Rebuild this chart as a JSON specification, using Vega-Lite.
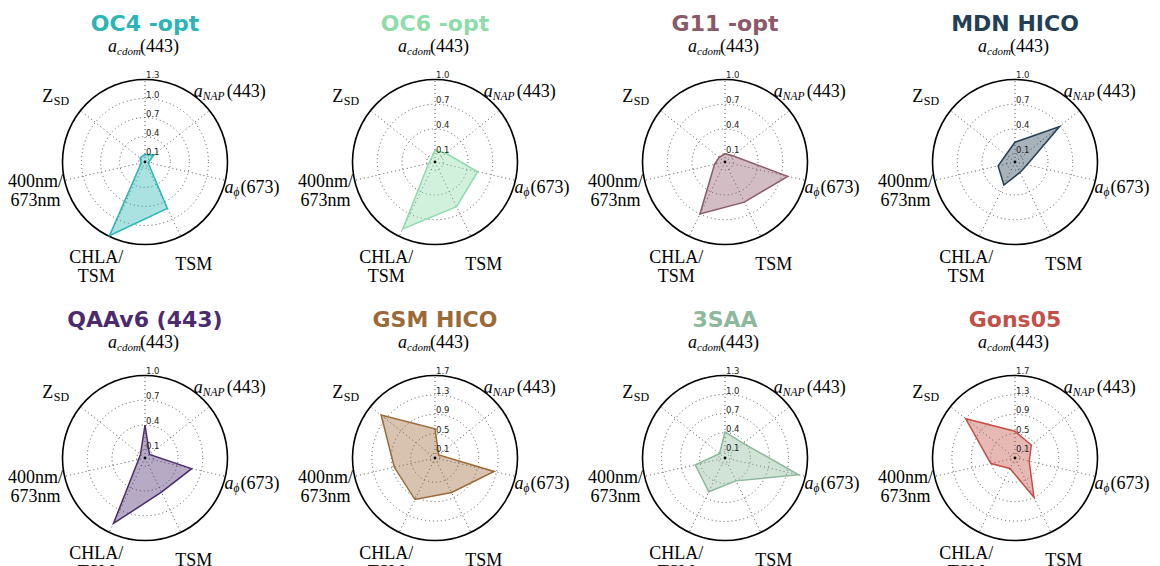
{
  "$schema": "https://vega.github.io/schema/vega-lite/v6.json",
  "padding": 0,
  "background": "white",
  "datasets": {
    "panels": [
      {"panel": "OC4 -opt", "rmax": 1.3},
      {"panel": "OC6 -opt", "rmax": 1.0},
      {"panel": "G11 -opt", "rmax": 1.0},
      {"panel": "MDN HICO", "rmax": 1.0},
      {"panel": "QAAv6 (443)", "rmax": 1.0},
      {"panel": "GSM HICO", "rmax": 1.7},
      {"panel": "3SAA", "rmax": 1.3},
      {"panel": "Gons05", "rmax": 1.7}
    ],
    "rows": [
      {"panel": "OC4 -opt", "kind": "value", "k": 0, "axis": "acdom", "v": 0.12},
      {"panel": "OC4 -opt", "kind": "value", "k": 1, "axis": "aNAP", "v": 0.18},
      {"panel": "OC4 -opt", "kind": "value", "k": 2, "axis": "aphi", "v": 0.05},
      {"panel": "OC4 -opt", "kind": "value", "k": 3, "axis": "TSM", "v": 0.81},
      {"panel": "OC4 -opt", "kind": "value", "k": 4, "axis": "CHLA/\nTSM", "v": 1.29},
      {"panel": "OC4 -opt", "kind": "value", "k": 5, "axis": "400nm/\n673nm", "v": 0.06},
      {"panel": "OC4 -opt", "kind": "value", "k": 6, "axis": "ZSD", "v": 0.10},
      {"panel": "OC6 -opt", "kind": "value", "k": 0, "axis": "acdom", "v": 0.14},
      {"panel": "OC6 -opt", "kind": "value", "k": 1, "axis": "aNAP", "v": 0.17},
      {"panel": "OC6 -opt", "kind": "value", "k": 2, "axis": "aphi", "v": 0.53},
      {"panel": "OC6 -opt", "kind": "value", "k": 3, "axis": "TSM", "v": 0.60},
      {"panel": "OC6 -opt", "kind": "value", "k": 4, "axis": "CHLA/\nTSM", "v": 0.90},
      {"panel": "OC6 -opt", "kind": "value", "k": 5, "axis": "400nm/\n673nm", "v": 0.08},
      {"panel": "OC6 -opt", "kind": "value", "k": 6, "axis": "ZSD", "v": 0.06},
      {"panel": "G11 -opt", "kind": "value", "k": 0, "axis": "acdom", "v": 0.10},
      {"panel": "G11 -opt", "kind": "value", "k": 1, "axis": "aNAP", "v": 0.12},
      {"panel": "G11 -opt", "kind": "value", "k": 2, "axis": "aphi", "v": 0.78},
      {"panel": "G11 -opt", "kind": "value", "k": 3, "axis": "TSM", "v": 0.54},
      {"panel": "G11 -opt", "kind": "value", "k": 4, "axis": "CHLA/\nTSM", "v": 0.70},
      {"panel": "G11 -opt", "kind": "value", "k": 5, "axis": "400nm/\n673nm", "v": 0.13},
      {"panel": "G11 -opt", "kind": "value", "k": 6, "axis": "ZSD", "v": 0.09},
      {"panel": "MDN HICO", "kind": "value", "k": 0, "axis": "acdom", "v": 0.24},
      {"panel": "MDN HICO", "kind": "value", "k": 1, "axis": "aNAP", "v": 0.69},
      {"panel": "MDN HICO", "kind": "value", "k": 2, "axis": "aphi", "v": 0.15},
      {"panel": "MDN HICO", "kind": "value", "k": 3, "axis": "TSM", "v": 0.14},
      {"panel": "MDN HICO", "kind": "value", "k": 4, "axis": "CHLA/\nTSM", "v": 0.31},
      {"panel": "MDN HICO", "kind": "value", "k": 5, "axis": "400nm/\n673nm", "v": 0.21},
      {"panel": "MDN HICO", "kind": "value", "k": 6, "axis": "ZSD", "v": 0.14},
      {"panel": "QAAv6 (443)", "kind": "value", "k": 0, "axis": "acdom", "v": 0.40},
      {"panel": "QAAv6 (443)", "kind": "value", "k": 1, "axis": "aNAP", "v": 0.07},
      {"panel": "QAAv6 (443)", "kind": "value", "k": 2, "axis": "aphi", "v": 0.58},
      {"panel": "QAAv6 (443)", "kind": "value", "k": 3, "axis": "TSM", "v": 0.46},
      {"panel": "QAAv6 (443)", "kind": "value", "k": 4, "axis": "CHLA/\nTSM", "v": 0.88},
      {"panel": "QAAv6 (443)", "kind": "value", "k": 5, "axis": "400nm/\n673nm", "v": 0.08},
      {"panel": "QAAv6 (443)", "kind": "value", "k": 6, "axis": "ZSD", "v": 0.07},
      {"panel": "GSM HICO", "kind": "value", "k": 0, "axis": "acdom", "v": 0.60},
      {"panel": "GSM HICO", "kind": "value", "k": 1, "axis": "aNAP", "v": 0.10},
      {"panel": "GSM HICO", "kind": "value", "k": 2, "axis": "aphi", "v": 1.25},
      {"panel": "GSM HICO", "kind": "value", "k": 3, "axis": "TSM", "v": 0.79},
      {"panel": "GSM HICO", "kind": "value", "k": 4, "axis": "CHLA/\nTSM", "v": 0.95},
      {"panel": "GSM HICO", "kind": "value", "k": 5, "axis": "400nm/\n673nm", "v": 0.86},
      {"panel": "GSM HICO", "kind": "value", "k": 6, "axis": "ZSD", "v": 1.42},
      {"panel": "3SAA", "kind": "value", "k": 0, "axis": "acdom", "v": 0.41},
      {"panel": "3SAA", "kind": "value", "k": 1, "axis": "aNAP", "v": 0.37},
      {"panel": "3SAA", "kind": "value", "k": 2, "axis": "aphi", "v": 1.19},
      {"panel": "3SAA", "kind": "value", "k": 3, "axis": "TSM", "v": 0.40},
      {"panel": "3SAA", "kind": "value", "k": 4, "axis": "CHLA/\nTSM", "v": 0.59},
      {"panel": "3SAA", "kind": "value", "k": 5, "axis": "400nm/\n673nm", "v": 0.48},
      {"panel": "3SAA", "kind": "value", "k": 6, "axis": "ZSD", "v": 0.11},
      {"panel": "Gons05", "kind": "value", "k": 0, "axis": "acdom", "v": 0.55},
      {"panel": "Gons05", "kind": "value", "k": 1, "axis": "aNAP", "v": 0.43},
      {"panel": "Gons05", "kind": "value", "k": 2, "axis": "aphi", "v": 0.30},
      {"panel": "Gons05", "kind": "value", "k": 3, "axis": "TSM", "v": 0.90},
      {"panel": "Gons05", "kind": "value", "k": 4, "axis": "CHLA/\nTSM", "v": 0.24},
      {"panel": "Gons05", "kind": "value", "k": 5, "axis": "400nm/\n673nm", "v": 0.51},
      {"panel": "Gons05", "kind": "value", "k": 6, "axis": "ZSD", "v": 1.30},
      {"panel": "OC4 -opt", "kind": "tick", "t": 0.1},
      {"panel": "OC4 -opt", "kind": "tick", "t": 0.4},
      {"panel": "OC4 -opt", "kind": "tick", "t": 0.7},
      {"panel": "OC4 -opt", "kind": "tick", "t": 1.0},
      {"panel": "OC4 -opt", "kind": "tick", "t": 1.3},
      {"panel": "OC6 -opt", "kind": "tick", "t": 0.1},
      {"panel": "OC6 -opt", "kind": "tick", "t": 0.4},
      {"panel": "OC6 -opt", "kind": "tick", "t": 0.7},
      {"panel": "OC6 -opt", "kind": "tick", "t": 1.0},
      {"panel": "G11 -opt", "kind": "tick", "t": 0.1},
      {"panel": "G11 -opt", "kind": "tick", "t": 0.4},
      {"panel": "G11 -opt", "kind": "tick", "t": 0.7},
      {"panel": "G11 -opt", "kind": "tick", "t": 1.0},
      {"panel": "MDN HICO", "kind": "tick", "t": 0.1},
      {"panel": "MDN HICO", "kind": "tick", "t": 0.4},
      {"panel": "MDN HICO", "kind": "tick", "t": 0.7},
      {"panel": "MDN HICO", "kind": "tick", "t": 1.0},
      {"panel": "QAAv6 (443)", "kind": "tick", "t": 0.1},
      {"panel": "QAAv6 (443)", "kind": "tick", "t": 0.4},
      {"panel": "QAAv6 (443)", "kind": "tick", "t": 0.7},
      {"panel": "QAAv6 (443)", "kind": "tick", "t": 1.0},
      {"panel": "GSM HICO", "kind": "tick", "t": 0.1},
      {"panel": "GSM HICO", "kind": "tick", "t": 0.5},
      {"panel": "GSM HICO", "kind": "tick", "t": 0.9},
      {"panel": "GSM HICO", "kind": "tick", "t": 1.3},
      {"panel": "GSM HICO", "kind": "tick", "t": 1.7},
      {"panel": "3SAA", "kind": "tick", "t": 0.1},
      {"panel": "3SAA", "kind": "tick", "t": 0.4},
      {"panel": "3SAA", "kind": "tick", "t": 0.7},
      {"panel": "3SAA", "kind": "tick", "t": 1.0},
      {"panel": "3SAA", "kind": "tick", "t": 1.3},
      {"panel": "Gons05", "kind": "tick", "t": 0.1},
      {"panel": "Gons05", "kind": "tick", "t": 0.5},
      {"panel": "Gons05", "kind": "tick", "t": 0.9},
      {"panel": "Gons05", "kind": "tick", "t": 1.3},
      {"panel": "Gons05", "kind": "tick", "t": 1.7}
    ]
  },
  "data": {"name": "rows"},
  "transform": [
    {"lookup": "panel", "from": {"data": {"name": "panels"}, "key": "panel", "fields": ["rmax"]}},
    {"calculate": "datum.k * 2 * PI / 7", "as": "ang"},
    {"calculate": "datum.kind == 'value' ? datum.v / datum.rmax : datum.t / datum.rmax", "as": "rr"},
    {"calculate": "datum.rr * sin(datum.ang)", "as": "px"},
    {"calculate": "datum.rr * cos(datum.ang)", "as": "py"},
    {"calculate": "sin(datum.ang)", "as": "sx"},
    {"calculate": "cos(datum.ang)", "as": "sy"},
    {"calculate": "0", "as": "c0"},
    {"calculate": "1.673", "as": "ty"},
    {"calculate": "(datum.k == 0 ? 1.38 : 1.36) * sin(datum.ang)", "as": "lx"},
    {"calculate": "(datum.k == 0 ? 1.38 : 1.36) * cos(datum.ang)", "as": "ly"}
  ],
  "facet": {"field": "panel", "type": "nominal",
    "header": {"title": null, "labels": false, "labelFontSize": 0, "labelPadding": 0, "labelExpr": "''"},
    "sort": ["OC4 -opt", "OC6 -opt", "G11 -opt", "MDN HICO", "QAAv6 (443)", "GSM HICO", "3SAA", "Gons05"]},
  "columns": 4,
  "spacing": 0,
  "spec": {
    "width": 290,
    "height": 296,
    "layer": [
      {
        "transform": [{"filter": "datum.kind == 'tick' && datum.rr < 0.999"}],
        "mark": {"type": "point", "shape": "circle", "filled": false, "stroke": "#444", "strokeWidth": 0.9, "strokeDash": [1, 3], "opacity": 1},
        "encoding": {
          "x": {"field": "c0", "type": "quantitative", "scale": {"domain": [-1.7576, 1.7576], "nice": false, "zero": false}, "axis": null},
          "y": {"field": "c0", "type": "quantitative", "scale": {"domain": [-1.6242, 1.9636], "nice": false, "zero": false}, "axis": null},
          "size": {"field": "rr", "type": "quantitative", "scale": {"type": "pow", "exponent": 2, "domain": [0, 1], "range": [0, 27225]}, "legend": null}
        }
      },
      {
        "transform": [{"filter": "datum.kind == 'value'"}],
        "mark": {"type": "rule", "stroke": "#444", "strokeWidth": 0.9, "strokeDash": [1, 3]},
        "encoding": {
          "x": {"field": "c0", "type": "quantitative", "scale": {"domain": [-1.7576, 1.7576], "nice": false, "zero": false}, "axis": null},
          "y": {"field": "c0", "type": "quantitative", "scale": {"domain": [-1.6242, 1.9636], "nice": false, "zero": false}, "axis": null},
          "x2": {"field": "sx"},
          "y2": {"field": "sy"}
        }
      },
      {
        "transform": [{"filter": "datum.kind == 'tick' && datum.rr >= 0.999"}],
        "mark": {"type": "point", "shape": "circle", "filled": false, "stroke": "black", "strokeWidth": 1.6, "opacity": 1},
        "encoding": {
          "x": {"field": "c0", "type": "quantitative", "scale": {"domain": [-1.7576, 1.7576], "nice": false, "zero": false}, "axis": null},
          "y": {"field": "c0", "type": "quantitative", "scale": {"domain": [-1.6242, 1.9636], "nice": false, "zero": false}, "axis": null},
          "size": {"field": "rr", "type": "quantitative", "scale": {"type": "pow", "exponent": 2, "domain": [0, 1], "range": [0, 27225]}, "legend": null}
        }
      },
      {
        "transform": [{"filter": "datum.kind == 'value'"}],
        "mark": {"type": "line", "interpolate": "linear-closed", "strokeWidth": 1.5, "fillOpacity": 0.4, "strokeOpacity": 1},
        "encoding": {
          "x": {"field": "px", "type": "quantitative", "scale": {"domain": [-1.7576, 1.7576], "nice": false, "zero": false}, "axis": null},
          "y": {"field": "py", "type": "quantitative", "scale": {"domain": [-1.6242, 1.9636], "nice": false, "zero": false}, "axis": null},
          "order": {"field": "k", "type": "quantitative"},
          "stroke": {"field": "panel", "type": "nominal", "legend": null,
            "scale": {"domain": ["OC4 -opt", "OC6 -opt", "G11 -opt", "MDN HICO", "QAAv6 (443)", "GSM HICO", "3SAA", "Gons05"],
                      "range": ["#2bb5b5", "#8fdcab", "#8b5a68", "#243f55", "#4b2b6e", "#9b6a37", "#8db89b", "#c34f47"]}},
          "fill": {"field": "panel", "type": "nominal", "legend": null,
            "scale": {"domain": ["OC4 -opt", "OC6 -opt", "G11 -opt", "MDN HICO", "QAAv6 (443)", "GSM HICO", "3SAA", "Gons05"],
                      "range": ["#2bb5b5", "#8fdcab", "#8b5a68", "#243f55", "#4b2b6e", "#9b6a37", "#8db89b", "#c34f47"]}}
        }
      },
      {
        "transform": [{"filter": "datum.kind == 'value' && datum.k == 0"}],
        "mark": {"type": "point", "shape": "circle", "filled": true, "fill": "black", "size": 8, "opacity": 1},
        "encoding": {
          "x": {"field": "c0", "type": "quantitative", "scale": {"domain": [-1.7576, 1.7576], "nice": false, "zero": false}, "axis": null},
          "y": {"field": "c0", "type": "quantitative", "scale": {"domain": [-1.6242, 1.9636], "nice": false, "zero": false}, "axis": null}
        }
      },
      {
        "transform": [{"filter": "datum.kind == 'tick'"}],
        "mark": {"type": "text", "align": "left", "baseline": "bottom", "dx": 1, "dy": 1, "font": "DejaVu Sans", "fontSize": 8.5, "fill": "#222"},
        "encoding": {
          "x": {"field": "c0", "type": "quantitative", "scale": {"domain": [-1.7576, 1.7576], "nice": false, "zero": false}, "axis": null},
          "y": {"field": "rr", "type": "quantitative", "scale": {"domain": [-1.6242, 1.9636], "nice": false, "zero": false}, "axis": null},
          "text": {"field": "t", "type": "quantitative", "format": ".1f"}
        }
      },
      {
        "transform": [{"filter": "datum.kind == 'value' && datum.k == 3"}],
        "mark": {"type": "text", "align": "center", "baseline": "middle", "dy": 2, "font": "Liberation Serif", "fontSize": 18, "fill": "black"},
        "encoding": {
          "x": {"field": "lx", "type": "quantitative", "scale": {"domain": [-1.7576, 1.7576], "nice": false, "zero": false}, "axis": null},
          "y": {"field": "ly", "type": "quantitative", "scale": {"domain": [-1.6242, 1.9636], "nice": false, "zero": false}, "axis": null},
          "text": {"field": "axis", "type": "nominal"}
        }
      },
      {
        "transform": [{"filter": "datum.kind == 'value' && (datum.k == 4 || datum.k == 5)"}],
        "mark": {"type": "text", "align": "center", "baseline": "middle", "dy": -5, "lineBreak": "\n", "lineHeight": 19, "font": "Liberation Serif", "fontSize": 18, "fill": "black"},
        "encoding": {
          "x": {"field": "lx", "type": "quantitative", "scale": {"domain": [-1.7576, 1.7576], "nice": false, "zero": false}, "axis": null},
          "y": {"field": "ly", "type": "quantitative", "scale": {"domain": [-1.6242, 1.9636], "nice": false, "zero": false}, "axis": null},
          "text": {"field": "axis", "type": "nominal"}
        }
      },
      {
        "transform": [{"filter": "datum.kind == 'value' && datum.k == 0"}],
        "mark": {"type": "text", "text": "a", "align": "left", "baseline": "alphabetic", "dx": -37, "dy": 4, "font": "Liberation Serif", "fontStyle": "italic", "fontSize": 18, "fill": "black"},
        "encoding": {
          "x": {"field": "lx", "type": "quantitative", "scale": {"domain": [-1.7576, 1.7576], "nice": false, "zero": false}, "axis": null},
          "y": {"field": "ly", "type": "quantitative", "scale": {"domain": [-1.6242, 1.9636], "nice": false, "zero": false}, "axis": null}
        }
      },
      {
        "transform": [{"filter": "datum.kind == 'value' && datum.k == 0"}],
        "mark": {"type": "text", "text": "cdom", "align": "left", "baseline": "alphabetic", "dx": -28, "dy": 7, "font": "Liberation Serif", "fontStyle": "italic", "fontSize": 11, "fill": "black"},
        "encoding": {
          "x": {"field": "lx", "type": "quantitative", "scale": {"domain": [-1.7576, 1.7576], "nice": false, "zero": false}, "axis": null},
          "y": {"field": "ly", "type": "quantitative", "scale": {"domain": [-1.6242, 1.9636], "nice": false, "zero": false}, "axis": null}
        }
      },
      {
        "transform": [{"filter": "datum.kind == 'value' && datum.k == 0"}],
        "mark": {"type": "text", "text": "(443)", "align": "left", "baseline": "alphabetic", "dx": -5, "dy": 4, "font": "Liberation Serif", "fontSize": 18, "fill": "black"},
        "encoding": {
          "x": {"field": "lx", "type": "quantitative", "scale": {"domain": [-1.7576, 1.7576], "nice": false, "zero": false}, "axis": null},
          "y": {"field": "ly", "type": "quantitative", "scale": {"domain": [-1.6242, 1.9636], "nice": false, "zero": false}, "axis": null}
        }
      },
      {
        "transform": [{"filter": "datum.kind == 'value' && datum.k == 1"}],
        "mark": {"type": "text", "text": "a", "align": "left", "baseline": "alphabetic", "dx": -39, "dy": 5, "font": "Liberation Serif", "fontStyle": "italic", "fontSize": 18, "fill": "black"},
        "encoding": {
          "x": {"field": "lx", "type": "quantitative", "scale": {"domain": [-1.7576, 1.7576], "nice": false, "zero": false}, "axis": null},
          "y": {"field": "ly", "type": "quantitative", "scale": {"domain": [-1.6242, 1.9636], "nice": false, "zero": false}, "axis": null}
        }
      },
      {
        "transform": [{"filter": "datum.kind == 'value' && datum.k == 1"}],
        "mark": {"type": "text", "text": "NAP", "align": "left", "baseline": "alphabetic", "dx": -30, "dy": 8, "font": "Liberation Serif", "fontStyle": "italic", "fontSize": 11.5, "fill": "black"},
        "encoding": {
          "x": {"field": "lx", "type": "quantitative", "scale": {"domain": [-1.7576, 1.7576], "nice": false, "zero": false}, "axis": null},
          "y": {"field": "ly", "type": "quantitative", "scale": {"domain": [-1.6242, 1.9636], "nice": false, "zero": false}, "axis": null}
        }
      },
      {
        "transform": [{"filter": "datum.kind == 'value' && datum.k == 1"}],
        "mark": {"type": "text", "text": "(443)", "align": "left", "baseline": "alphabetic", "dx": -6, "dy": 5, "font": "Liberation Serif", "fontSize": 18, "fill": "black"},
        "encoding": {
          "x": {"field": "lx", "type": "quantitative", "scale": {"domain": [-1.7576, 1.7576], "nice": false, "zero": false}, "axis": null},
          "y": {"field": "ly", "type": "quantitative", "scale": {"domain": [-1.6242, 1.9636], "nice": false, "zero": false}, "axis": null}
        }
      },
      {
        "transform": [{"filter": "datum.kind == 'value' && datum.k == 2"}],
        "mark": {"type": "text", "text": "a", "align": "left", "baseline": "alphabetic", "dx": -30, "dy": 6, "font": "Liberation Serif", "fontStyle": "italic", "fontSize": 18, "fill": "black"},
        "encoding": {
          "x": {"field": "lx", "type": "quantitative", "scale": {"domain": [-1.7576, 1.7576], "nice": false, "zero": false}, "axis": null},
          "y": {"field": "ly", "type": "quantitative", "scale": {"domain": [-1.6242, 1.9636], "nice": false, "zero": false}, "axis": null}
        }
      },
      {
        "transform": [{"filter": "datum.kind == 'value' && datum.k == 2"}],
        "mark": {"type": "text", "text": "ϕ", "align": "left", "baseline": "alphabetic", "dx": -21, "dy": 9, "font": "Liberation Serif", "fontStyle": "italic", "fontSize": 11.5, "fill": "black"},
        "encoding": {
          "x": {"field": "lx", "type": "quantitative", "scale": {"domain": [-1.7576, 1.7576], "nice": false, "zero": false}, "axis": null},
          "y": {"field": "ly", "type": "quantitative", "scale": {"domain": [-1.6242, 1.9636], "nice": false, "zero": false}, "axis": null}
        }
      },
      {
        "transform": [{"filter": "datum.kind == 'value' && datum.k == 2"}],
        "mark": {"type": "text", "text": "(673)", "align": "left", "baseline": "alphabetic", "dx": -14, "dy": 6, "font": "Liberation Serif", "fontSize": 18, "fill": "black"},
        "encoding": {
          "x": {"field": "lx", "type": "quantitative", "scale": {"domain": [-1.7576, 1.7576], "nice": false, "zero": false}, "axis": null},
          "y": {"field": "ly", "type": "quantitative", "scale": {"domain": [-1.6242, 1.9636], "nice": false, "zero": false}, "axis": null}
        }
      },
      {
        "transform": [{"filter": "datum.kind == 'value' && datum.k == 6"}],
        "mark": {"type": "text", "text": "Z", "align": "left", "baseline": "alphabetic", "dx": -15, "dy": 10, "font": "Liberation Serif", "fontSize": 18, "fill": "black"},
        "encoding": {
          "x": {"field": "lx", "type": "quantitative", "scale": {"domain": [-1.7576, 1.7576], "nice": false, "zero": false}, "axis": null},
          "y": {"field": "ly", "type": "quantitative", "scale": {"domain": [-1.6242, 1.9636], "nice": false, "zero": false}, "axis": null}
        }
      },
      {
        "transform": [{"filter": "datum.kind == 'value' && datum.k == 6"}],
        "mark": {"type": "text", "text": "SD", "align": "left", "baseline": "alphabetic", "dx": -3.5, "dy": 13, "font": "Liberation Serif", "fontSize": 12, "fill": "black"},
        "encoding": {
          "x": {"field": "lx", "type": "quantitative", "scale": {"domain": [-1.7576, 1.7576], "nice": false, "zero": false}, "axis": null},
          "y": {"field": "ly", "type": "quantitative", "scale": {"domain": [-1.6242, 1.9636], "nice": false, "zero": false}, "axis": null}
        }
      },
      {
        "transform": [{"filter": "datum.kind == 'value' && datum.k == 0"}],
        "mark": {"type": "text", "align": "center", "baseline": "middle", "font": "DejaVu Sans", "fontWeight": "bold", "fontSize": 22},
        "encoding": {
          "x": {"field": "c0", "type": "quantitative", "scale": {"domain": [-1.7576, 1.7576], "nice": false, "zero": false}, "axis": null},
          "y": {"field": "ty", "type": "quantitative", "scale": {"domain": [-1.6242, 1.9636], "nice": false, "zero": false}, "axis": null},
          "text": {"field": "panel", "type": "nominal"},
          "fill": {"field": "panel", "type": "nominal", "legend": null,
            "scale": {"domain": ["OC4 -opt", "OC6 -opt", "G11 -opt", "MDN HICO", "QAAv6 (443)", "GSM HICO", "3SAA", "Gons05"],
                      "range": ["#2bb5b5", "#8fdcab", "#8b5a68", "#243f55", "#4b2b6e", "#9b6a37", "#8db89b", "#c34f47"]}}
        }
      }
    ]
  },
  "config": {"view": {"stroke": null}, "header": {"labels": false, "title": null, "labelFontSize": 0, "labelPadding": 0}}
}
